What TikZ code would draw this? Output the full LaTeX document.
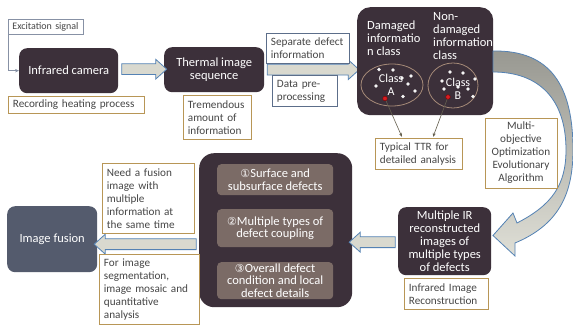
\documentclass[tikz,border=0pt]{standalone}
\usepackage{fontspec}
\setmainfont{Carlito}
\newfontfamily\circfont{DejaVu Sans}
\usetikzlibrary{shapes.geometric,shapes.arrows,arrows.meta,calc}

\definecolor{dk}{RGB}{60,48,58}
\definecolor{innerbox}{RGB}{123,107,102}
\definecolor{slatebox}{RGB}{84,91,109}
\definecolor{gold}{RGB}{184,150,86}
\definecolor{steel}{RGB}{92,110,138}
\definecolor{exgray}{RGB}{135,145,165}
\definecolor{txt}{RGB}{70,70,70}
\definecolor{afill}{RGB}{217,217,207}
\definecolor{aline}{RGB}{84,130,180}
\definecolor{ringc}{RGB}{165,138,120}
\definecolor{ptr}{RGB}{100,95,78}
\definecolor{reddot}{RGB}{215,30,35}

\newcommand\cnum[1]{{\circfont\fontsize{11}{12}\selectfont #1}}
\hyphenpenalty=10000
\exhyphenpenalty=10000

\begin{document}
\begin{tikzpicture}[x=1pt,y=-1pt,
  darkbox/.style={fill=dk, rounded corners=8pt, text=white, align=center,
    inner sep=0pt, anchor=north west, font=\fontsize{12.5}{13}\selectfont},
  lbl/.style={draw=gold, fill=white, line width=0.8pt, text=txt, align=left,
    inner xsep=4.5pt, inner ysep=0pt, anchor=north west,
    font=\fontsize{11.2}{13}\selectfont},
  slatelbl/.style={lbl, draw=steel},
  subbox/.style={fill=innerbox, rounded corners=4pt, text=white, align=center,
    inner sep=0pt, anchor=north west, minimum width=116pt,
    font=\fontsize{12.5}{12.5}\selectfont},
  barrow/.style={single arrow, draw=aline, fill=afill, line width=0.8pt,
    inner xsep=0pt, inner ysep=5pt, minimum width=0pt,
    single arrow head extend=4.5pt, single arrow tip angle=84},
  ring/.style={ellipse, draw=ringc, line width=0.8pt, inner sep=0pt},
  wdot/.style={fill=white!92!gray},
  ptrline/.style={draw=ptr, line width=0.6pt, -{Stealth[length=4pt,width=3pt]}},
]
\useasboundingbox (0,0) rectangle (573,326);
\fill[white] (0,0) rectangle (573,326);

% ---------- top row ----------
\node[lbl, draw=exgray, font=\fontsize{10}{12}\selectfont, inner xsep=4pt, minimum width=75pt,
  minimum height=15pt, text width=67pt] (exc) at (8,19) {\mbox{Excitation signal}};
\node[darkbox, minimum width=99pt, minimum height=45pt] (cam) at (19,48) {Infrared camera};
\node[lbl, minimum width=136pt, minimum height=17pt, text width=127pt] (rec) at (8,96)
  {Recording heating process};
\draw[exgray, line width=0.8pt, -{Stealth[length=4pt,width=3.5pt]}] (exc.south west) |- (cam.west);

\node[darkbox, minimum width=100pt, minimum height=45pt] (therm) at (164,47)
  {Thermal image\\sequence};
\node[lbl, minimum width=68pt, minimum height=44pt, text width=59pt] (trem) at (183,95)
  {Tremendous\\amount of\\information};

% block arrows along the top row
\node[barrow, minimum height=45pt] (a1) at ($(cam.east)!.5!(therm.west)+(0,-1)$) {};
\node[barrow, minimum height=92pt] (a2) at ($(therm.east)!.5!(therm.east -| 356,0)$) {};

\node[slatelbl, minimum width=83pt, minimum height=30pt, text width=74pt] (sep) at (266,33)
  {Separate defect\\information};
\node[slatelbl, minimum width=65pt, minimum height=31pt, text width=56pt] (dpp) at (272,75)
  {Data pre-\\processing};

% ---------- classification panel ----------
\node[darkbox, rounded corners=13pt, minimum width=136pt, minimum height=108pt] (cls) at (357,7) {};
\node[text=white, align=left, inner sep=0pt, anchor=west,
  font=\fontsize{12.5}{13}\selectfont] (dmg) at (367,38.5) {Damaged\\informatio\\n class};
\node[text=white, align=left, inner sep=0pt, anchor=west,
  font=\fontsize{12.5}{13.3}\selectfont] (ndmg) at (433,36) {Non-\\damaged\\information\\class};

\node[ring, minimum width=62pt, minimum height=42pt] (ellA) at (392,85) {};
\node[ring, minimum width=50pt, minimum height=45pt] (ellB) at (453,85.5) {};

\foreach \p in {(379,69.5),(393,70),(411,76),(402,78),(376,86),(408,84),(415,91),(403,96.5)}
  \fill[wdot] \p circle (1.8);
\foreach \p in {(450,72),(463,73),(475,79),(442,81),(458,87),(468,89),(444,89),(473,96.5)}
  \fill[wdot] \p circle (1.8);

\node[text=white, align=center, inner sep=0pt, font=\fontsize{12}{13}\selectfont]
  (lblA) at (391,84.5) {Class\\A};
\node[text=white, align=center, inner sep=0pt, font=\fontsize{12}{13}\selectfont]
  (lblB) at (458,88.5) {Class\\B};

\coordinate (redA) at (385,98.5);
\coordinate (redB) at (448,97);

\node[lbl, minimum width=87pt, minimum height=31pt, text width=78pt] (ttr) at (375,138)
  {Typical TTR for\\detailed analysis};
\draw[ptrline] (redA) -- ($(ttr.north west)+(27,-1)$);
\draw[ptrline] (redB) -- ($(ttr.north west)+(58,-1)$);
\fill[reddot, draw=red!50!black, line width=0.4pt] (redA) circle (2.3);
\fill[reddot, draw=red!50!black, line width=0.4pt] (redB) circle (2.3);

% ---------- curved arrow on the right ----------
\path[draw=aline, line width=0.8pt, top color=black!30!afill, bottom color=afill!85!white]
  (493,51) .. controls (550,50) and (573,85) .. (573,150)
  .. controls (573,195) and (558,225) .. (515,243)
  -- (515,256) -- (493,235.5) -- (513,213) -- (517,223)
  .. controls (552,205) and (566,185) .. (566,150)
  .. controls (566,100) and (540,72) .. (493,72) -- cycle;

\node[lbl, align=center, minimum width=72pt, minimum height=70pt, anchor=center]
  (moea) at (521,153) {Multi-\\objective\\Optimization\\Evolutionary\\Algorithm};

% ---------- reconstruction ----------
\node[darkbox, minimum width=93pt, minimum height=68pt] (mir) at (398,207)
  {Multiple IR\\reconstructed\\images of\\multiple types\\of defects};
\node[lbl, minimum width=84pt, minimum height=31pt, text width=75pt] (iir) at (404,278)
  {Infrared Image\\Reconstruction};

% ---------- central panel ----------
\node[darkbox, rounded corners=15pt, minimum width=153pt, minimum height=154pt] (ctr) at (199,153) {};
\node[subbox, minimum height=31pt] (c1) at (217,164) {\cnum{①}Surface and\\subsurface defects};
\node[subbox, minimum height=38pt] (c2) at (217,209) {\cnum{②}Multiple types of\\defect coupling};
\node[subbox, minimum height=37pt] (c3) at (217,262)
  {\cnum{③}Overall defect\\condition and local\\defect details};

\node[barrow, minimum height=46pt, shape border rotate=180] (a3)
  at ($(mir.west)!.5!(mir.west -| ctr.east)+(0,1)$) {};

% ---------- image fusion ----------
\node[darkbox, fill=slatebox, minimum width=90pt, minimum height=66pt] (fus) at (7,206)
  {Image fusion};
\node[barrow, minimum height=102pt, shape border rotate=180] (a4)
  at ($(fus.east)!.5!(fus.east -| ctr.west)+(0,5)$) {};

\node[lbl, minimum width=92pt, minimum height=70pt, text width=83pt] (need) at (102,163)
  {Need a fusion\\image with\\multiple\\information at\\the same time};
\node[lbl, minimum width=100pt, minimum height=70pt, text width=91pt] (forimg) at (99,254)
  {For image\\segmentation,\\image mosaic and\\quantitative\\analysis};
\end{tikzpicture}
\end{document}
